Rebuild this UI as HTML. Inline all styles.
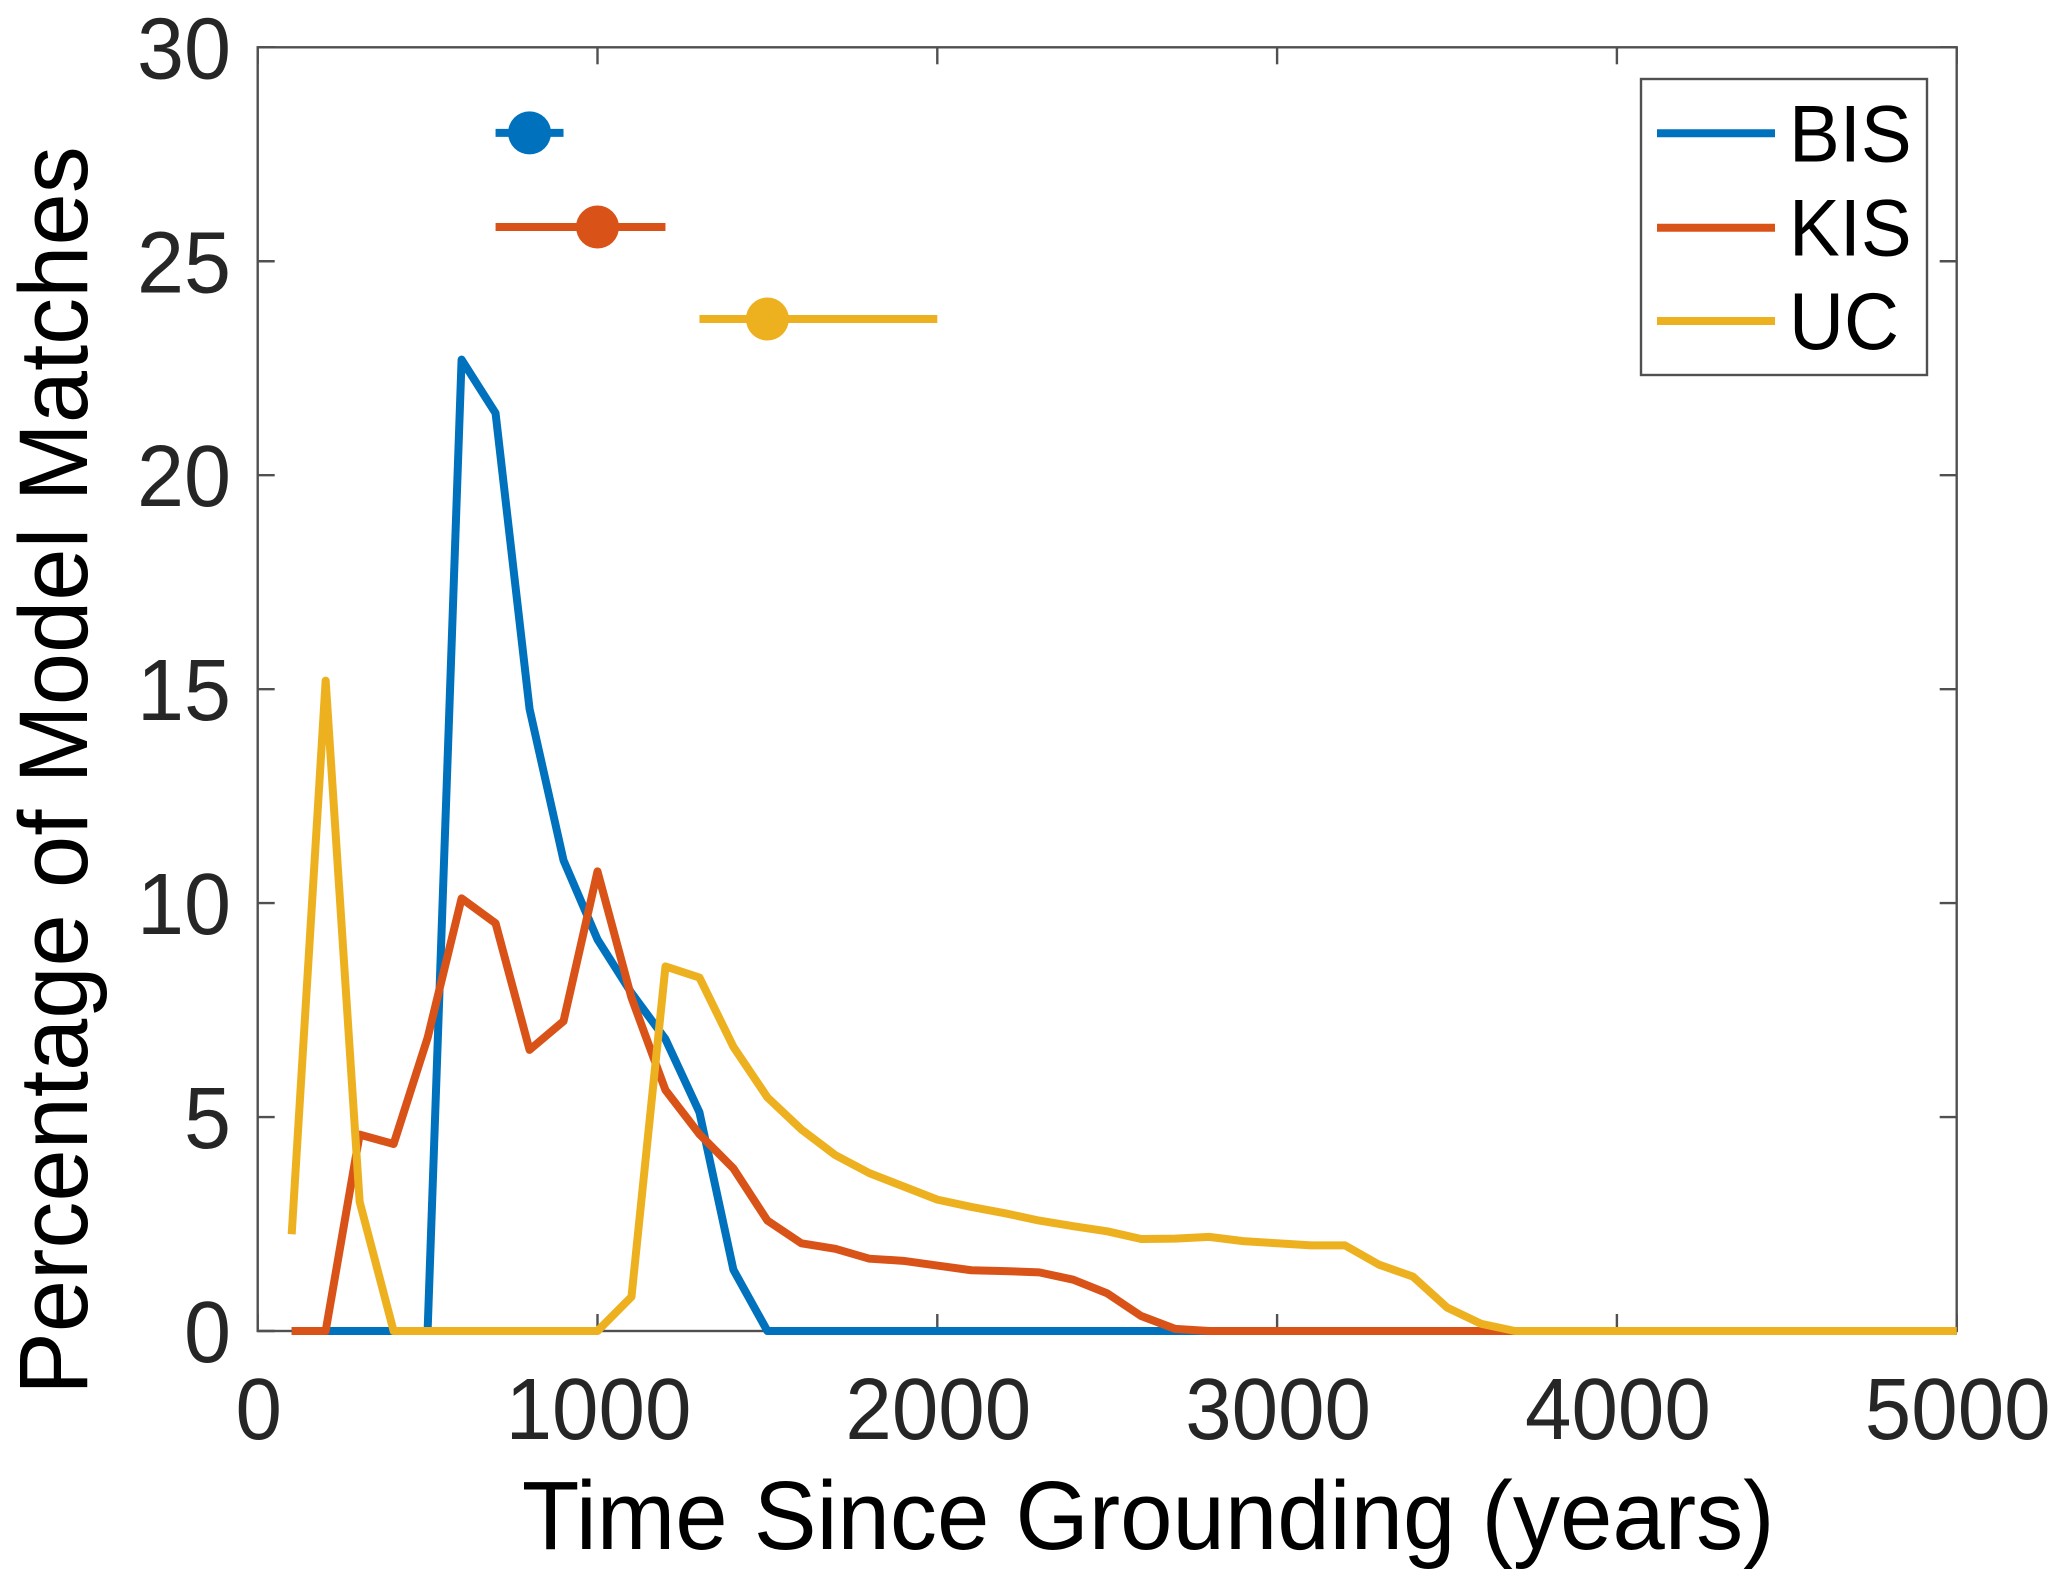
<!DOCTYPE html>
<html lang="en">
<head>
<meta charset="utf-8">
<title>Percentage of Model Matches vs Time Since Grounding</title>
<style>
  html, body { margin: 0; padding: 0; background: #fff; }
  svg { display: block; }
  text { font-family: "Liberation Sans", sans-serif; }
</style>
</head>
<body>
<svg id="chart" xmlns="http://www.w3.org/2000/svg" width="2067" height="1588" viewBox="0 0 2067 1588">
  <rect x="0" y="0" width="2067" height="1588" fill="#ffffff"/>
  <g id="marks"></g>
  <rect x="257.7" y="47.3" width="1699" height="1283.7" fill="none" stroke="#505050" stroke-width="2.4"/>
  <g id="ticks"></g>
  <g id="series"></g>
  <g id="summary"></g>
  <text transform="translate(1148.2 1549) scale(0.971 1)" font-size="97" text-anchor="middle" fill="#000000">Time Since Grounding (years)</text>
  <text transform="translate(87 770.6) rotate(-90) scale(0.969 1)" font-size="97" text-anchor="middle" fill="#000000">Percentage of Model Matches</text>
  <g id="legend">
    <rect x="1641" y="79" width="286" height="296" fill="#ffffff" stroke="#505050" stroke-width="2.4"/>
  </g>
</svg>
<script>
const years = [100,200,300,400,500,600,700,800,900,1000,1100,1200,1300,1400,1500,1600,1700,1800,1900,2000,2100,2200,2300,2400,2500,2600,2700,2800,2900,3000,3100,3200,3300,3400,3500,3600,3700,3800,3900,4000,4100,4200,4300,4400,4500,4600,4700,4800,4900,5000];
const bisValues = [0,0,0,0,0,22.7,21.45,14.54,11,9.15,7.9,6.82,5.11,1.43,0,0,0,0,0,0,0,0,0,0,0,0,0,0,0,0,0,0,0,0,0,0,0,0,0,0,0,0,0,0,0,0,0,0,0,0];
const kisValues = [0,0,4.59,4.37,6.85,10.11,9.53,6.57,7.24,10.74,7.79,5.63,4.6,3.8,2.58,2.05,1.92,1.69,1.64,1.53,1.42,1.4,1.37,1.2,0.88,0.35,0.05,0,0,0,0,0,0,0,0,0,0,0,0,0,0,0,0,0,0,0,0,0,0,0];
const ucValues = [2.26,15.2,3.02,0,0,0,0,0,0,0,0.8,8.52,8.26,6.64,5.46,4.71,4.11,3.69,3.38,3.07,2.9,2.75,2.58,2.45,2.33,2.15,2.16,2.2,2.1,2.05,2,2,1.55,1.27,0.55,0.17,0,0,0,0,0,0,0,0,0,0,0,0,0,0];
const seriesNames = ["BIS","KIS","UC"];
const summaryCenters = [800,1000,1500];
const summaryLows = [700,700,1300];
const summaryHighs = [900,1200,2000];
const summaryLevels = [28,25.8,23.65];
const xTickValues = [0,1000,2000,3000,4000,5000];
const xTickLabels = ["0","1000","2000","3000","4000","5000"];
const yTickValues = [0,5,10,15,20,25,30];
const yTickLabels = ["0","5","10","15","20","25","30"];

const SVG_NS = "http://www.w3.org/2000/svg";
const plot = { left: 257.7, right: 1956.7, top: 47.3, bottom: 1331, xMax: 5000, yMax: 30 };
const colors = ["#0072BD", "#D95319", "#EDB120"];
const seriesData = [bisValues, kisValues, ucValues];

function xScale(v) { return plot.left + (v / plot.xMax) * (plot.right - plot.left); }
function yScale(v) { return plot.bottom - (v / plot.yMax) * (plot.bottom - plot.top); }
function make(tag, attrs, parent) {
  const e = document.createElementNS(SVG_NS, tag);
  for (const k in attrs) e.setAttribute(k, attrs[k]);
  parent.appendChild(e);
  return e;
}

const ticksGroup = document.getElementById("ticks");
const seriesGroup = document.getElementById("series");
const summaryGroup = document.getElementById("summary");
const legendGroup = document.getElementById("legend");
const tickLen = 17;
const axisColor = "#505050";
const tickTextColor = "#262626";

xTickValues.forEach(function (v, i) {
  const x = xScale(v);
  const b = make("line", { x1: x, x2: x, y1: plot.bottom, y2: plot.bottom - tickLen, stroke: axisColor, "stroke-width": 2.4 }, ticksGroup);
  
  
  const t = make("line", { x1: x, x2: x, y1: plot.top, y2: plot.top + tickLen, stroke: axisColor, "stroke-width": 2.4 }, ticksGroup);
  
  
  const label = make("text", { transform: "translate(" + (x + 1) + " 1439) scale(0.96 1)", "font-size": 87, "text-anchor": "middle", fill: tickTextColor }, ticksGroup);
  
  
  label.textContent = xTickLabels[i];
});

yTickValues.forEach(function (v, i) {
  const y = yScale(v);
  const l = make("line", { x1: plot.left, x2: plot.left + tickLen, y1: y, y2: y, stroke: axisColor, "stroke-width": 2.4 }, ticksGroup);
  
  
  const r = make("line", { x1: plot.right, x2: plot.right - tickLen, y1: y, y2: y, stroke: axisColor, "stroke-width": 2.4 }, ticksGroup);
  
  
  const label = make("text", { transform: "translate(231 " + (y + 31) + ") scale(0.972 1)", "font-size": 87, "text-anchor": "end", fill: tickTextColor }, ticksGroup);
  
  
  label.textContent = yTickLabels[i];
});

seriesData.forEach(function (values, s) {
  const points = values.map(function (v, i) { return xScale(years[i]) + "," + yScale(v); }).join(" ");
  const line = make("polyline", { points: points, fill: "none", stroke: colors[s], "stroke-width": 8, "stroke-linejoin": "round", "stroke-linecap": "butt" }, seriesGroup);
  
  
});

summaryCenters.forEach(function (c, s) {
  const y = yScale(summaryLevels[s]);
  const bar = make("line", { x1: xScale(summaryLows[s]), x2: xScale(summaryHighs[s]), y1: y, y2: y, stroke: colors[s], "stroke-width": 8 }, summaryGroup);
  
  
  const dot = make("circle", { cx: xScale(c), cy: y, r: 21.5, fill: colors[s] }, summaryGroup);
  
  
});

const legendRowY = [133.3, 227.7, 321];
seriesNames.forEach(function (name, s) {
  const swatch = make("line", { x1: 1657, x2: 1775, y1: legendRowY[s], y2: legendRowY[s], stroke: colors[s], "stroke-width": 8 }, legendGroup);
  
  
  const label = make("text", { transform: "translate(1789 " + (legendRowY[s] + 28) + ") scale(0.94 1)", "font-size": 81, fill: "#000000" }, legendGroup);
  
  
  label.textContent = name;
});
</script>
</body>
</html>
